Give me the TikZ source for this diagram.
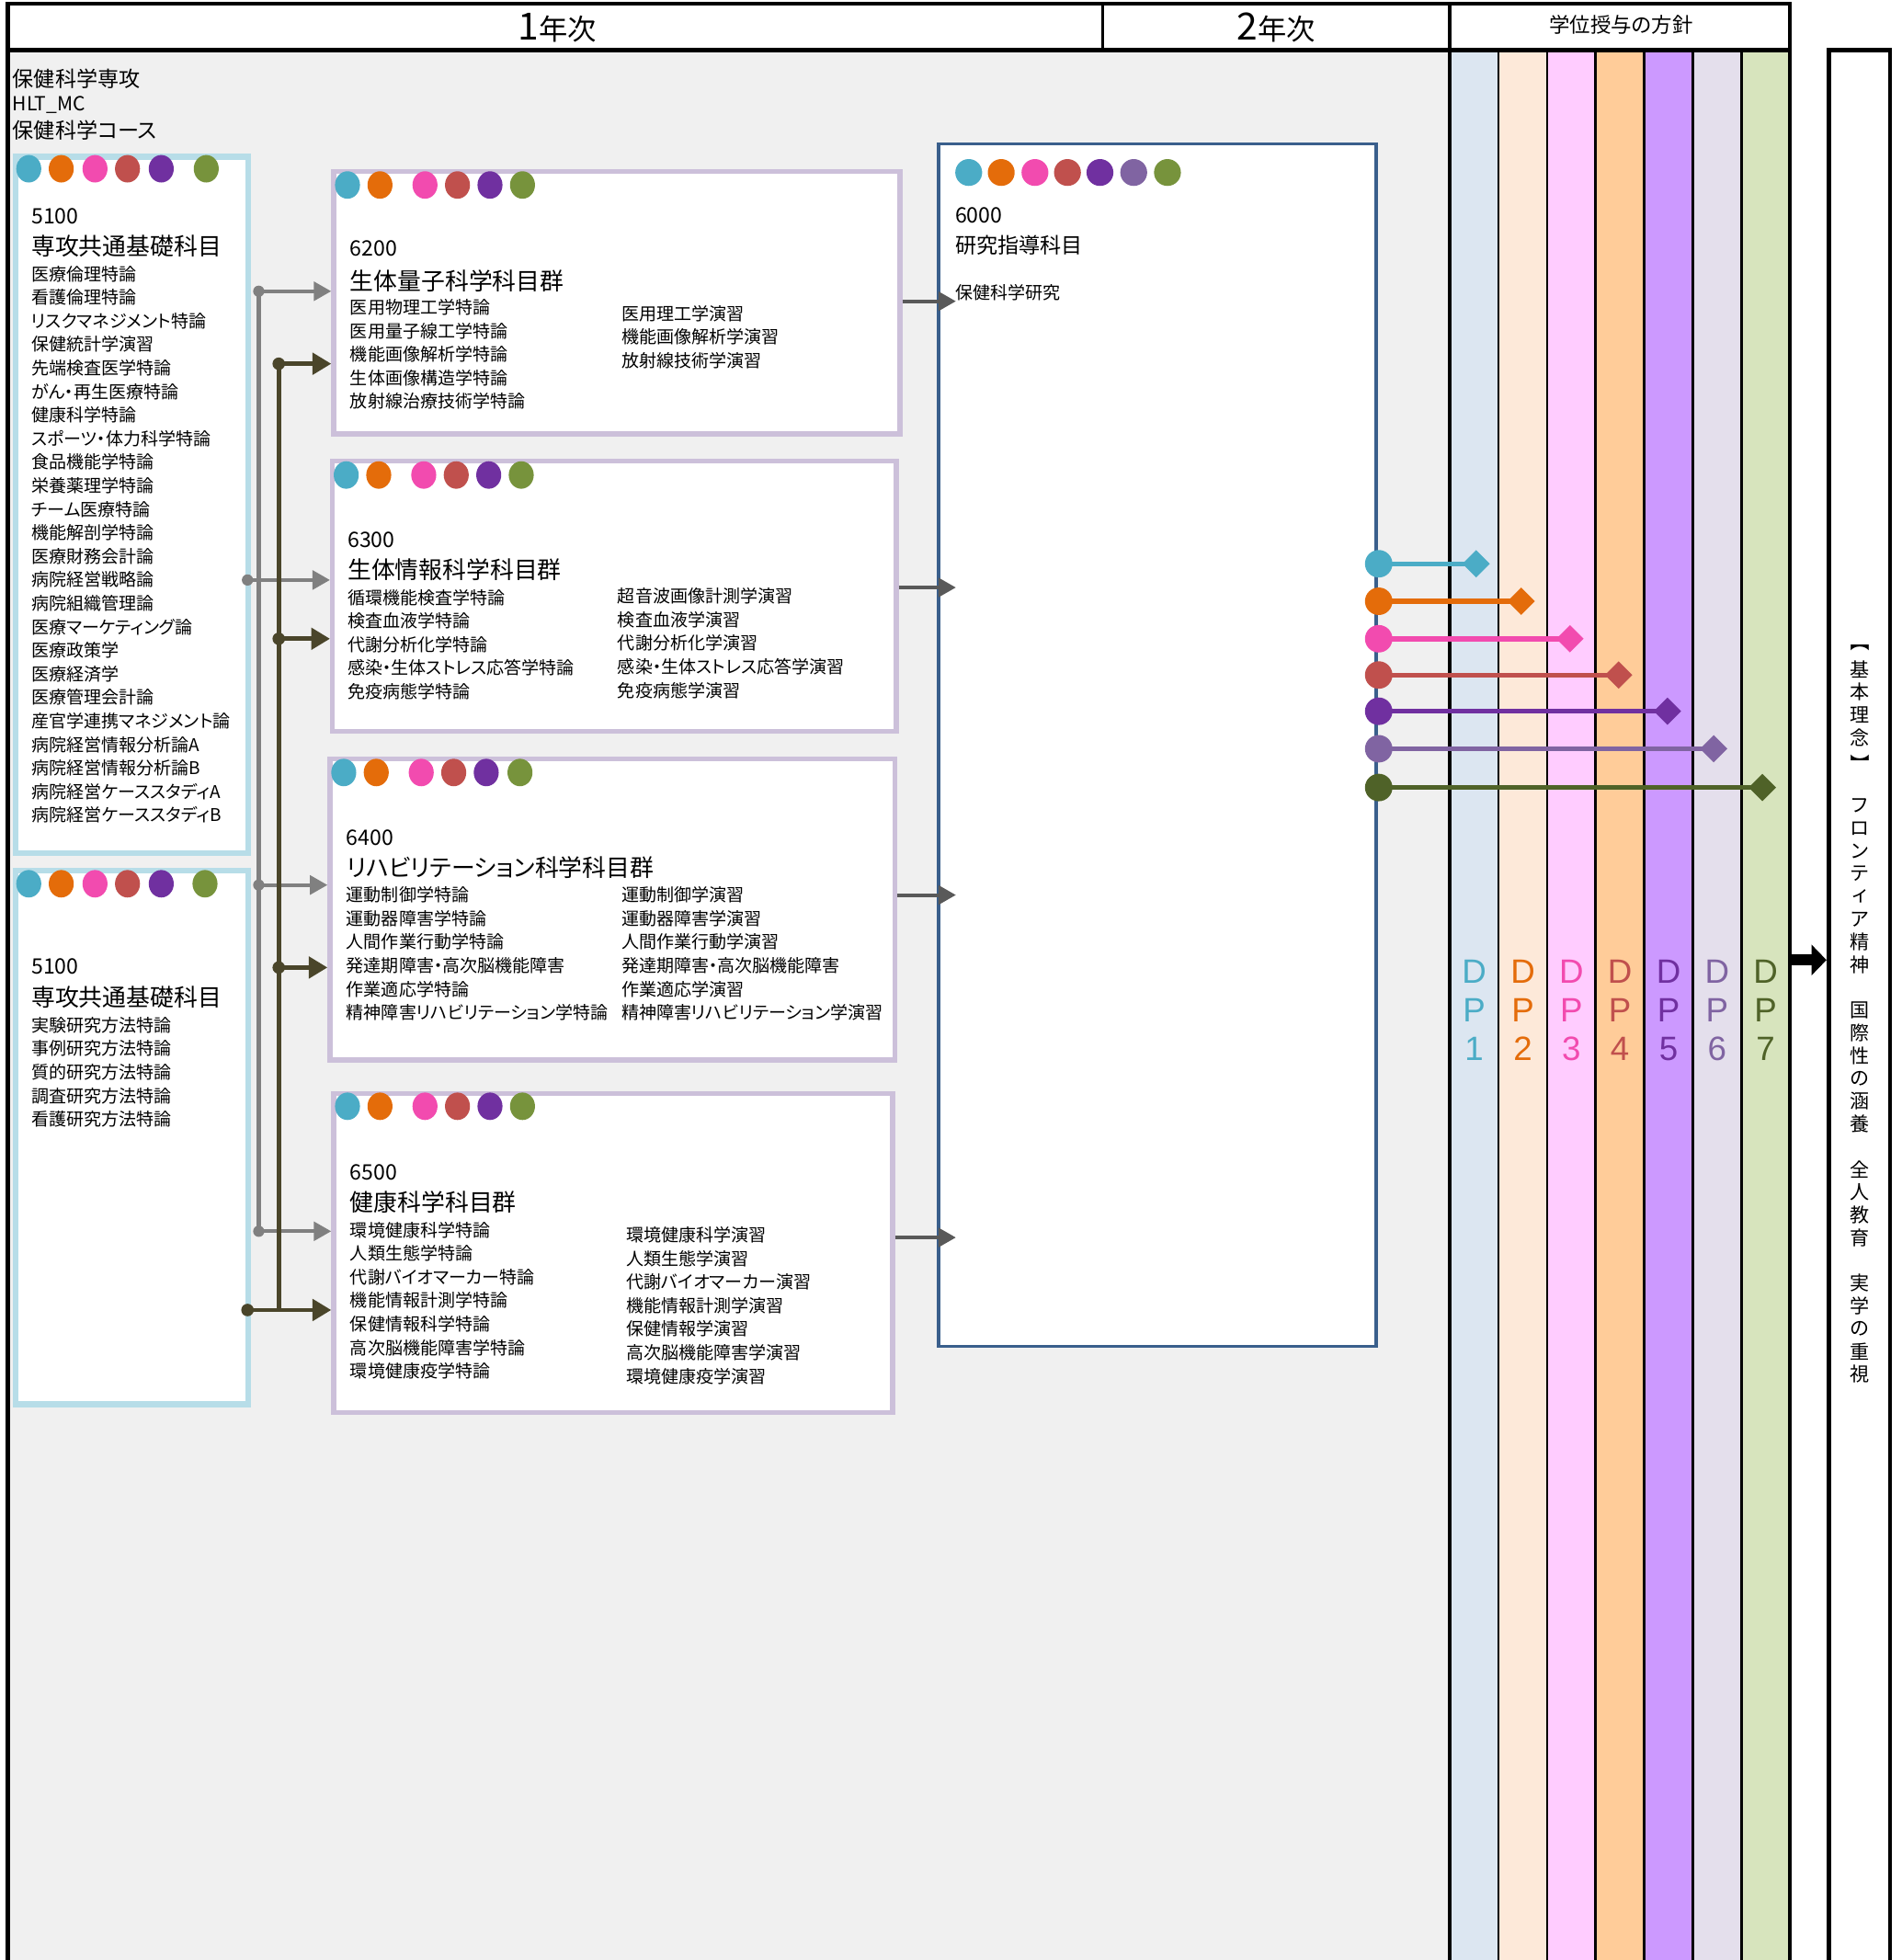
\documentclass[tikz,border=0pt]{standalone}
\usepackage{fontspec}
\setmainfont{Noto Sans CJK JP}[RawFeature={+palt}]
\newfontfamily\dpfont{Liberation Sans}
\usetikzlibrary{arrows.meta,shapes.geometric}
\definecolor{c1}{HTML}{4BACC6}
\definecolor{c2}{HTML}{E46C0A}
\definecolor{c3}{HTML}{F24BAF}
\definecolor{c4}{HTML}{C0504D}
\definecolor{c5}{HTML}{7030A0}
\definecolor{c6}{HTML}{8064A2}
\definecolor{c7}{HTML}{77933C}
\definecolor{c7d}{HTML}{4F6228}
\definecolor{p1}{HTML}{DCE6F1}
\definecolor{p2}{HTML}{FDE9D9}
\definecolor{p3}{HTML}{FFCCFF}
\definecolor{p4}{HTML}{FFCC99}
\definecolor{p5}{HTML}{CC99FF}
\definecolor{p6}{HTML}{E4DFEC}
\definecolor{p7}{HTML}{D7E4BD}
\definecolor{bgg}{HTML}{F0F0F0}
\definecolor{b51}{HTML}{B7DDE8}
\definecolor{b62}{HTML}{CCC0DA}
\definecolor{b60}{HTML}{3A5F8C}
\definecolor{gline}{HTML}{808080}
\definecolor{dline}{HTML}{4A452A}
\definecolor{rline}{HTML}{595959}
\begin{document}
\begin{tikzpicture}[x=1pt,y=-1pt,
  fs/.style={font=\fontsize{#1}{#1}\selectfont},
  lbl/.style={inner sep=0pt, anchor=west},
  itm/.style={lbl, fs=14},
  num/.style={lbl, fs=17},
  ttl/.style={lbl, fs=19},
  box51/.style={draw=b51, line width=5pt, fill=white, inner sep=0pt, minimum width=186pt},
  box62/.style={draw=b62, line width=4pt, fill=white, inner sep=0pt},
  dot/.style={ellipse, fill=#1, minimum width=20pt, minimum height=22pt, inner sep=0pt},
  gconn/.style={draw=gline, line width=3pt},
  dconn/.style={draw=dline, line width=3.5pt},
  gjoin/.style={circle, fill=gline, minimum size=9pt, inner sep=0pt},
  djoin/.style={circle, fill=dline, minimum size=10pt, inner sep=0pt},
  garrow/.style={gconn, -{Triangle[length=14pt,width=15pt]}},
  darrow/.style={dconn, -{Triangle[length=15pt,width=17pt]}},
  rarrow/.style={draw=rline, line width=3pt, -{Triangle[length=14pt,width=15pt]}, shorten >=-15pt},
  sdot/.style={circle, fill=#1, minimum size=22pt, inner sep=0pt},
  ddia/.style={diamond, aspect=1, fill=#1, minimum size=22pt, inner sep=0pt},
  dpl/.style={font=\dpfont\fontsize{27}{27}\selectfont, inner sep=0pt, text=#1}
]
\useasboundingbox (0,0) rectangle (1521,1568);
\fill[white] (0,0) rectangle (1521,1568);
\fill[bgg] (6,40) rectangle (1160,1570);
\foreach \c [count=\i from 0] in {p1,p2,p3,p4,p5,p6,p7}
  \fill[\c] ({1160+38.857*\i},40) rectangle ({1160+38.857*(\i+1)},1570);
\foreach \i in {1,...,6}
  \draw[line width=2pt] ({1160+38.857*\i},40) -- ({1160+38.857*\i},1570);
% header frame
\draw[line width=3.5pt] (4.25,3) -- (1433.75,3);
\draw[line width=3.5pt] (4.25,40) -- (1433.75,40);
\draw[line width=3.5pt] (6,3) -- (6,1570);
\draw[line width=2.5pt] (882,3) -- (882,40);
\draw[line width=3pt] (1160,3) -- (1160,1570);
\draw[line width=3.5pt] (1432,3) -- (1432,1570);
\node[inner sep=0pt] (h1) at (446,22) {\fontsize{30}{30}\selectfont 1\fontsize{23}{23}\selectfont 年次};
\node[inner sep=0pt] (h2) at (1021,22) {\fontsize{30}{30}\selectfont 2\fontsize{23}{23}\selectfont 年次};
\node[inner sep=0pt, fs=16.5] (h3) at (1297,20) {学位授与の方針};
% right box
\node[draw, line width=3.5pt, fill=white, minimum width=49pt, minimum height=1540pt, inner sep=0pt] (rbox) at (1487.5,810) {};
\foreach \c/\k in {基/1,本/2,理/3,念/4,フ/7,ロ/8,ン/9,テ/10,ィ/11,ア/12,精/13,神/14,国/16,際/17,性/18,の/19,涵/20,養/21,全/23,人/24,教/25,育/26,実/28,学/29,の/30,重/31,視/32}
  \node[fs=15.5, inner sep=0pt] (v\k) at (1488,{517+18.2*\k}) {\c};
\node[fs=15.5, inner sep=0pt, rotate=-90] (v0) at (1488,517) {【};
\node[fs=15.5, inner sep=0pt, rotate=-90] (v5) at (1488,{517+18.2*5}) {】};
% course title
\node[lbl, fs=17] (t1) at (10,63) {保健科学専攻};
\node[lbl, fs=15.5] (t2) at (10,84) {HLT\_MC};
\node[lbl, fs=17] (t3) at (10,104) {保健科学コース};
% boxes
\node[box51, minimum height=557pt] (b51a) at (105.5,404) {};
\node[box51, minimum height=427pt] (b51b) at (105.5,910) {};
\node[box62, minimum width=453pt, minimum height=210pt] (b62) at (493.5,242) {};
\node[box62, minimum width=451pt, minimum height=216pt] (b63) at (491.5,477) {};
\node[box62, minimum width=452pt, minimum height=241pt] (b64) at (490,727.5) {};
\node[box62, minimum width=447pt, minimum height=255pt] (b65) at (490.5,1002.5) {};
\node[draw=b60, line width=2.5pt, fill=white, minimum width=350pt, minimum height=962pt, inner sep=0pt] (b60) at (926,596) {};
% dots in boxes
\foreach \x/\c [count=\k] in {23/c1,49/c2,76/c3,102/c4,129/c5,165/c7}
  \node[dot=\c] (da\k) at (\x,135) {};
\foreach \x/\c [count=\k] in {23/c1,49/c2,76/c3,102/c4,129/c5,164/c7}
  \node[dot=\c] (db\k) at (\x,707) {};
\foreach \x/\c [count=\k] in {278/c1,304/c2,340/c3,366/c4,392/c5,418/c7}
  \node[dot=\c] (dc\k) at (\x,148) {};
\foreach \x/\c [count=\k] in {277/c1,303/c2,339/c3,365/c4,391/c5,417/c7}
  \node[dot=\c] (dd\k) at (\x,380) {};
\foreach \x/\c [count=\k] in {275/c1,301/c2,337/c3,363/c4,389/c5,416/c7}
  \node[dot=\c] (de\k) at (\x,618) {};
\foreach \x/\c [count=\k] in {278/c1,304/c2,340/c3,366/c4,392/c5,418/c7}
  \node[dot=\c] (df\k) at (\x,885) {};
\foreach \x/\c [count=\k] in {775/c1,801/c2,828/c3,854/c4,880/c5,907/c6,934/c7}
  \node[circle, fill=\c, minimum size=21.5pt, inner sep=0pt] (dg\k) at (\x,138) {};
% 5100 a
\node[num] (n51a) at (25,173) {5100};
\node[ttl] (t51a) at (25,197) {専攻共通基礎科目};
\foreach \t [count=\i from 0] in {医療倫理特論,看護倫理特論,リスクマネジメント特論,保健統計学演習,先端検査医学特論,がん・再生医療特論,健康科学特論,スポーツ・体力科学特論,食品機能学特論,栄養薬理学特論,チーム医療特論,機能解剖学特論,医療財務会計論,病院経営戦略論,病院組織管理論,医療マーケティング論,医療政策学,医療経済学,医療管理会計論,産官学連携マネジメント論,病院経営情報分析論A,病院経営情報分析論B,病院経営ケーススタディA,病院経営ケーススタディB}
  \node[itm] (ia\i) at (25,{219+18.83*\i}) {\t};
% 5100 b
\node[num] (n51b) at (25,773) {5100};
\node[ttl] (t51b) at (25,798) {専攻共通基礎科目};
\foreach \t [count=\i from 0] in {実験研究方法特論,事例研究方法特論,質的研究方法特論,調査研究方法特論,看護研究方法特論}
  \node[itm] (ib\i) at (25,{820+18.9*\i}) {\t};
% 6200
\node[num] (n62) at (280,199) {6200};
\node[ttl] (t62) at (280,225) {生体量子科学科目群};
\foreach \t [count=\i from 0] in {医用物理工学特論,医用量子線工学特論,機能画像解析学特論,生体画像構造学特論,放射線治療技術学特論}
  \node[itm] (ic\i) at (280,{246+18.75*\i}) {\t};
\foreach \t [count=\i from 0] in {医用理工学演習,機能画像解析学演習,放射線技術学演習}
  \node[itm] (jc\i) at (497,{251+18.6*\i}) {\t};
% 6300
\node[num] (n63) at (278,432) {6300};
\node[ttl] (t63) at (278,456) {生体情報科学科目群};
\foreach \t [count=\i from 0] in {循環機能検査学特論,検査血液学特論,代謝分析化学特論,感染・生体ストレス応答学特論,免疫病態学特論}
  \node[itm] (id\i) at (278,{478+18.8*\i}) {\t};
\foreach \t [count=\i from 0] in {超音波画像計測学演習,検査血液学演習,代謝分析化学演習,感染・生体ストレス応答学演習,免疫病態学演習}
  \node[itm] (jd\i) at (494,{477+18.8*\i}) {\t};
% 6400
\node[num] (n64) at (277,670) {6400};
\node[ttl] (t64) at (277,694) {リハビリテーション科学科目群};
\foreach \t [count=\i from 0] in {運動制御学特論,運動器障害学特論,人間作業行動学特論,発達期障害・高次脳機能障害,作業適応学特論,精神障害リハビリテーション学特論}
  \node[itm] (ie\i) at (277,{716+18.8*\i}) {\t};
\foreach \t [count=\i from 0] in {運動制御学演習,運動器障害学演習,人間作業行動学演習,発達期障害・高次脳機能障害,作業適応学演習,精神障害リハビリテーション学演習}
  \node[itm] (je\i) at (497,{716+18.8*\i}) {\t};
% 6500
\node[num] (n65) at (280,938) {6500};
\node[ttl] (t65) at (280,962) {健康科学科目群};
\foreach \t [count=\i from 0] in {環境健康科学特論,人類生態学特論,代謝バイオマーカー特論,機能情報計測学特論,保健情報科学特論,高次脳機能障害学特論,環境健康疫学特論}
  \node[itm] (if\i) at (280,{984+18.8*\i}) {\t};
\foreach \t [count=\i from 0] in {環境健康科学演習,人類生態学演習,代謝バイオマーカー演習,機能情報計測学演習,保健情報学演習,高次脳機能障害学演習,環境健康疫学演習}
  \node[itm] (jf\i) at (501,{988+18.8*\i}) {\t};
% 6000
\node[num] (n60) at (764,172) {6000};
\node[lbl, fs=17] (t60) at (764,196) {研究指導科目};
\node[itm] (i60) at (764,234) {保健科学研究};
% grey bus
\node[gjoin] (g1) at (207,233) {};
\node[gjoin] (g2) at (198,464) {};
\node[gjoin] (g3) at (207,708) {};
\node[gjoin] (g4) at (207,985) {};
\draw[gconn] (g1.center) -- (g4.center);
\draw[garrow] (g1.center) -- (b62.west |- g1);
\draw[garrow] (g2.center) -- (b63.west |- g2);
\draw[garrow] (g3.center) -- (b64.west |- g3);
\draw[garrow] (g4.center) -- (b65.west |- g4);
% dark bus
\node[djoin] (k1) at (223,291) {};
\node[djoin] (k2) at (223,511) {};
\node[djoin] (k3) at (223,774) {};
\node[djoin] (k4) at (198,1048) {};
\draw[dconn] (k1.center) -- (k1.center |- k4);
\draw[darrow] (k1.center) -- (b62.west |- k1);
\draw[darrow] (k2.center) -- (b63.west |- k2);
\draw[darrow] (k3.center) -- (b64.west |- k3);
\draw[darrow] (k4.center) -- (b65.west |- k4);
% to 6000
\coordinate (r1) at (0,241);
\coordinate (r2) at (0,470);
\coordinate (r3) at (0,716);
\coordinate (r4) at (0,990);
\draw[rarrow] (b62.east |- r1) -- (b60.west |- r1);
\draw[rarrow] (b63.east |- r2) -- (b60.west |- r2);
\draw[rarrow] (b64.east |- r3) -- (b60.west |- r3);
\draw[rarrow] (b65.east |- r4) -- (b60.west |- r4);
% DP connectors
\foreach \i/\y/\x/\c in {1/451/1181/c1,2/481/1217/c2,3/511/1256/c3,4/540/1295/c4,5/569/1334/c5,6/599/1371/c6,7/630/1410/c7d}{
  \node[sdot=\c] (s\i) at (1103,\y) {};
  \node[ddia=\c] (e\i) at (\x,\y) {};
  \draw[\c, line width=4pt] (s\i.center) -- (e\i.center);
}
% DP labels
\foreach \i/\c in {1/c1,2/c2,3/c3,4/c4,5/c5,6/c6,7/c7d}{
  \node[dpl=\c] (dpa\i) at ({1160+38.857*(\i-0.5)},777) {D};
  \node[dpl=\c] (dpb\i) at ({1160+38.857*(\i-0.5)},808) {P};
  \node[dpl=\c] (dpc\i) at ({1160+38.857*(\i-0.5)},839) {\i};
}
% big arrow
\coordinate (ba) at (1432,768);
\draw[line width=9pt, -{Triangle[length=12pt,width=24pt]}] (ba) -- (rbox.west |- ba);
\end{tikzpicture}
\end{document}
